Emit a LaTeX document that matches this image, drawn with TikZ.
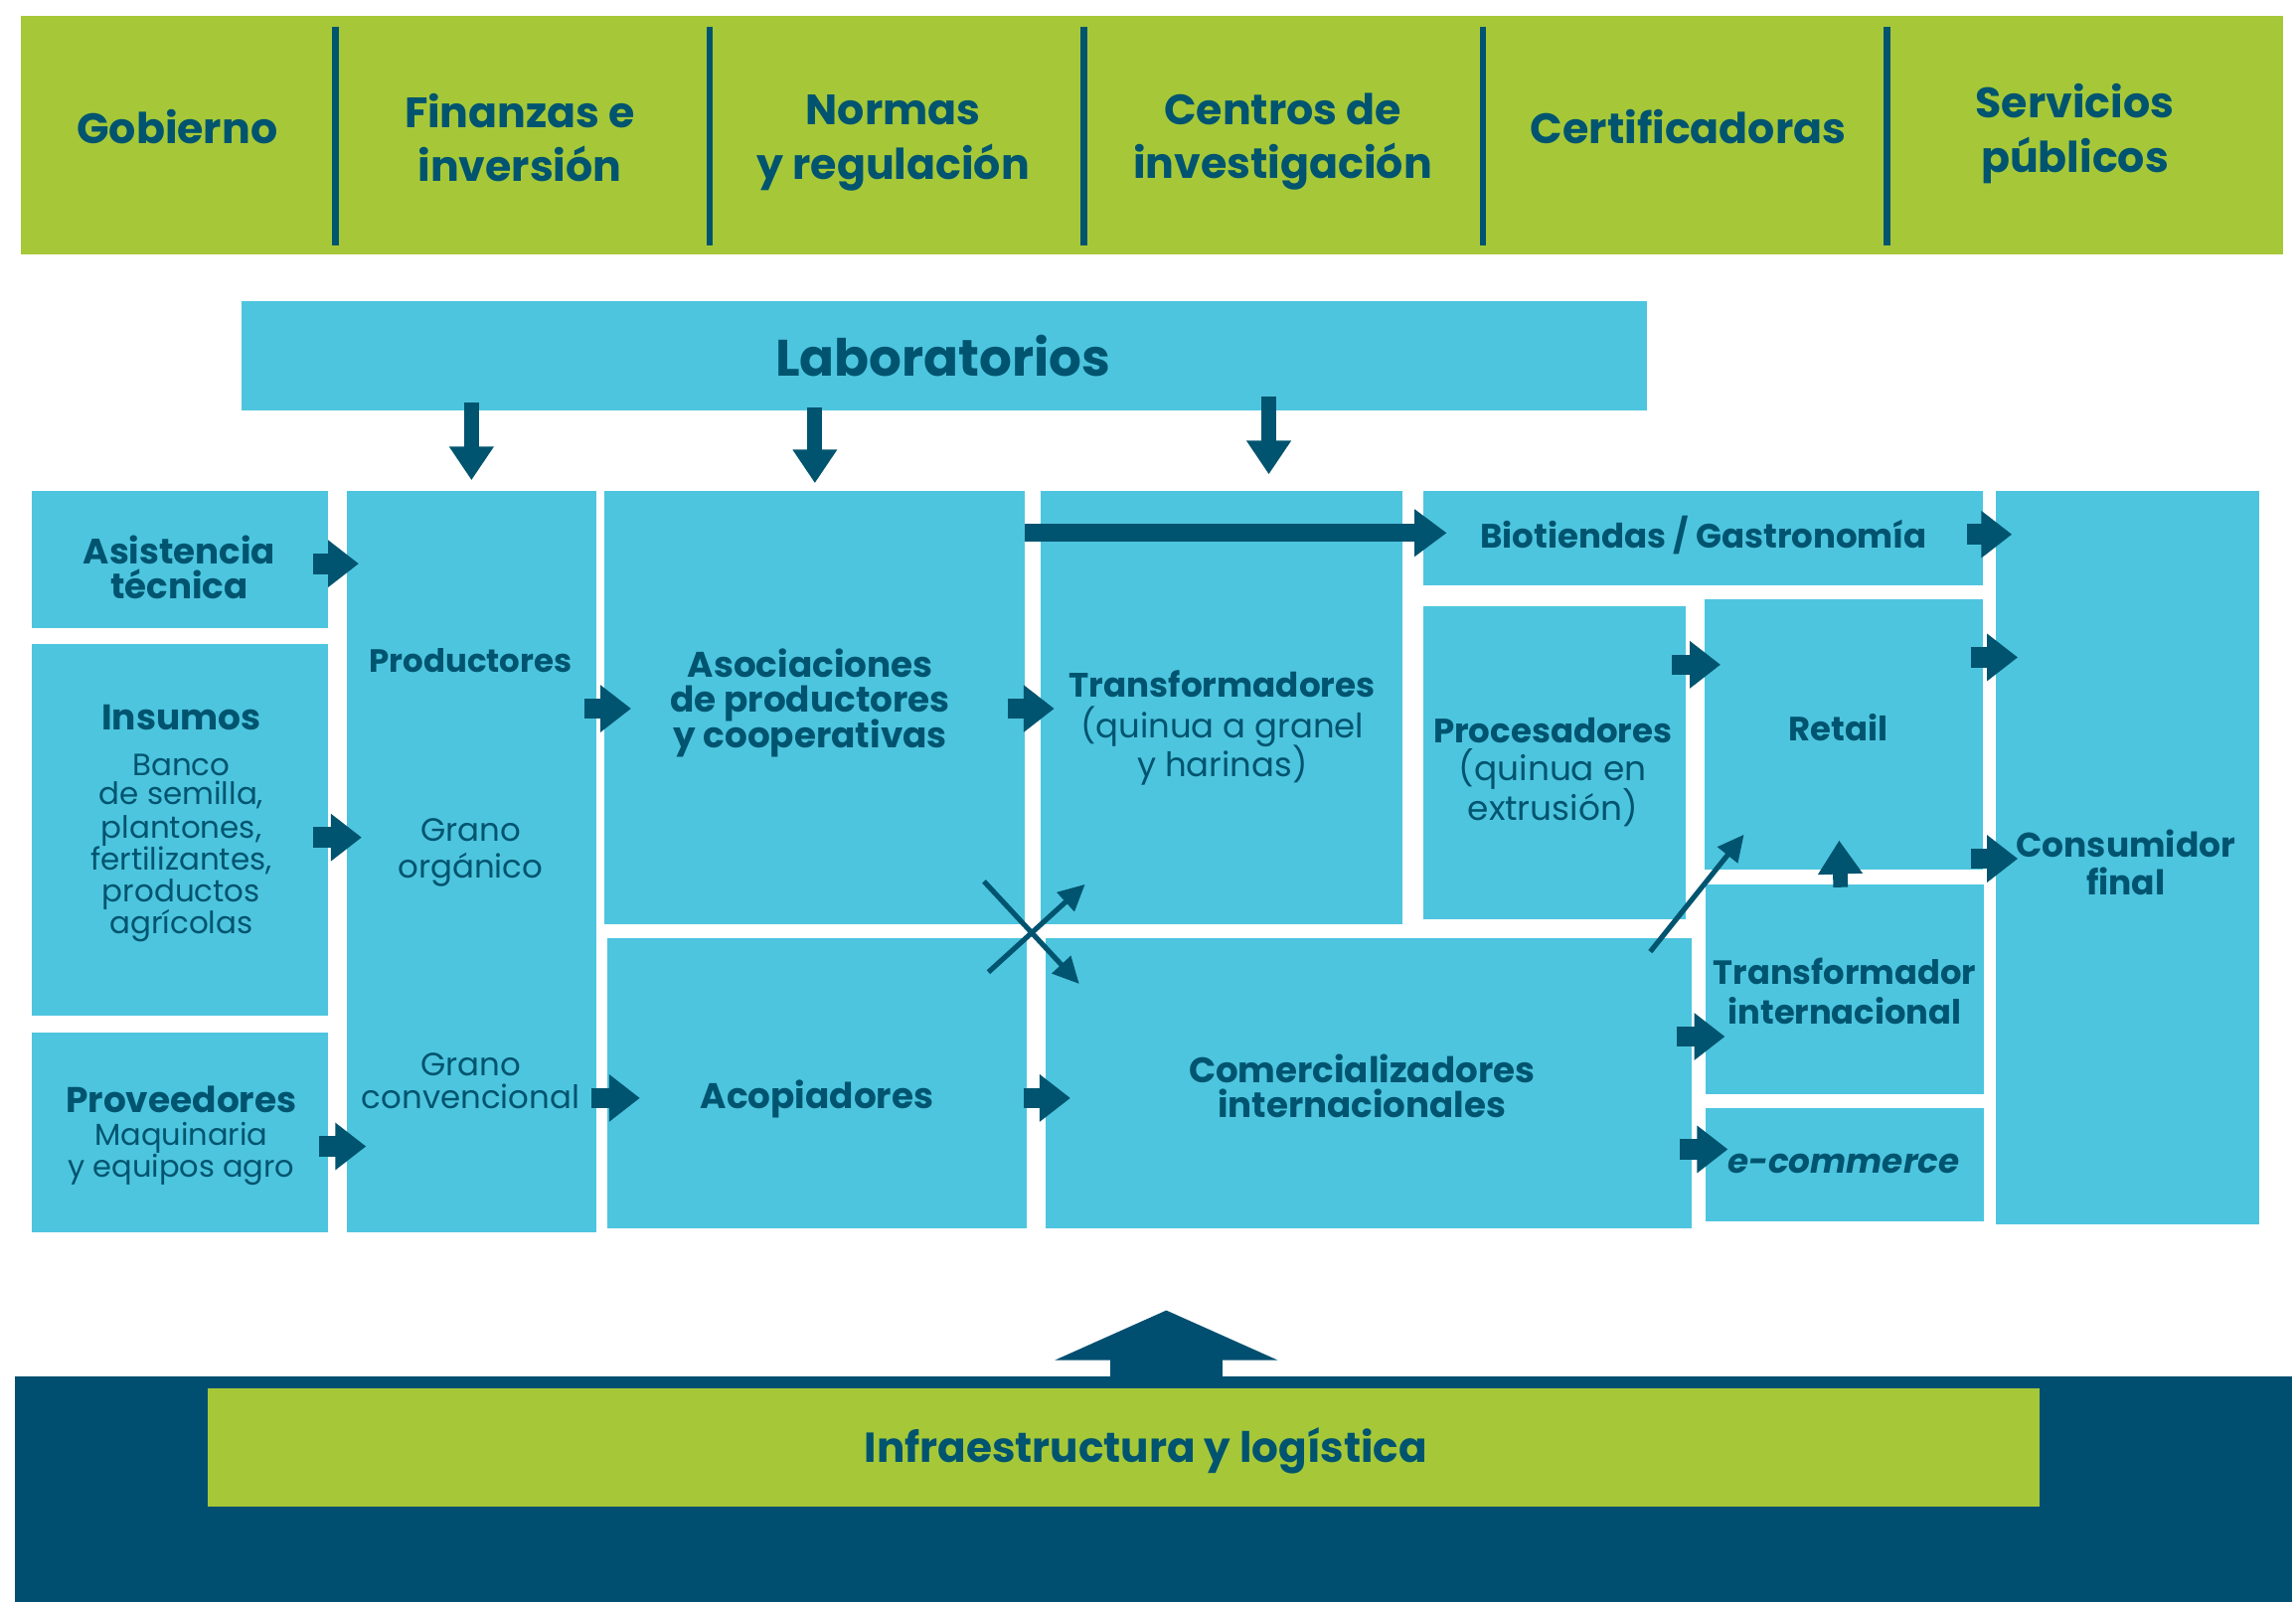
\documentclass[tikz,border=0pt]{standalone}
\usepackage{fontspec}
\setmainfont{Poppins}
\usetikzlibrary{arrows.meta}
\definecolor{gr}{HTML}{A6C838}
\definecolor{lb}{HTML}{4EC5DF}
\definecolor{nv}{HTML}{004F71}
\definecolor{tx}{HTML}{00546F}
\newcommand\fsz[1]{\fontsize{#1}{#1}\selectfont}
\begin{document}
\begin{tikzpicture}[x=1pt,y=-1pt,
  box/.style={fill=lb, inner sep=0pt, outer sep=0pt, anchor=north west, draw=none},
  gbox/.style={fill=gr, inner sep=0pt, outer sep=0pt, anchor=north west, draw=none},
  nbox/.style={fill=nv, inner sep=0pt, outer sep=0pt, anchor=north west, draw=none},
  lbl/.style={anchor=base, inner sep=0pt, text=tx},
  toplbl/.style={lbl, font=\fsz{29}\bfseries},
  lablbl/.style={lbl, font=\fsz{35}\bfseries},
  bb/.style={lbl, font=\fsz{#1}\bfseries},
  br/.style={lbl, font=\fsz{#1}},
  inflbl/.style={lbl, font=\fsz{28.6}\bfseries},
  barrow/.style={draw=tx, line width=14pt, -{Triangle[length=21pt,width=31pt]}},
  larrow/.style={draw=tx, line width=12pt, -{Triangle[length=22pt,width=31pt]}},
  darrow/.style={draw=tx, line width=10pt, -{Triangle[length=23pt,width=29pt]}},
  tarrow/.style={draw=tx, line width=3.5pt, -{Triangle[length=18pt,width=17pt]}},
  bigup/.style={draw=nv, line width=77pt, -{Triangle[length=34pt,width=151pt]}},
  divider/.style={draw=tx, line width=4.5pt}
]
\useasboundingbox (0,0) rectangle (1568,1094);

% top band
\node[gbox, minimum width=1545pt, minimum height=163pt] (top) at (14,11) {};
\foreach \x in {229,484.7,740.4,1012.7,1288.8}
  \draw[divider] (\x,18) -- (\x,167.5);
\node[toplbl] (gob) at (121,98.4) {Gobierno};
\node[toplbl] (fin1) at (355,87.1) {Finanzas e};
\node[toplbl] (fin2) at (355,124) {inversión};
\node[toplbl] (nor1) at (610,85.5) {Normas};
\node[toplbl] (nor2) at (610,122.2) {y regulación};
\node[toplbl] (cen1) at (876,85.5) {Centros de};
\node[toplbl] (cen2) at (876,122) {investigación};
\node[toplbl] (cert) at (1153,97.8) {Certificadoras};
\node[toplbl] (ser1) at (1417,80.3) {Servicios};
\node[toplbl] (ser2) at (1417,117.7) {públicos};

% laboratorios
\node[box, minimum width=960pt, minimum height=74pt] (lab) at (165,206) {};
\node[lablbl] (labt) at (644,256.8) {Laboratorios};

% boxes
\node[box, minimum width=202pt, minimum height=94pt] (asis) at (22,335) {};
\node[box, minimum width=202pt, minimum height=254pt] (insu) at (22,440) {};
\node[box, minimum width=202pt, minimum height=137pt] (prov) at (22,705) {};
\node[box, minimum width=170pt, minimum height=507pt] (prod) at (237,335) {};
\node[box, minimum width=287pt, minimum height=296pt] (asoc) at (413,335) {};
\node[box, minimum width=286pt, minimum height=198pt] (acop) at (415,641) {};
\node[box, minimum width=247pt, minimum height=296pt] (tran) at (711,335) {};
\node[box, minimum width=441pt, minimum height=198pt] (comr) at (714,641) {};
\node[box, minimum width=382pt, minimum height=65pt] (biot) at (972,335) {};
\node[box, minimum width=179pt, minimum height=214pt] (proc) at (972,414) {};
\node[box, minimum width=190pt, minimum height=185pt] (retl) at (1164,409) {};
\node[box, minimum width=190pt, minimum height=143pt] (tint) at (1165,604) {};
\node[box, minimum width=190pt, minimum height=77pt] (ecom) at (1165,757) {};
\node[box, minimum width=180pt, minimum height=501pt] (cons) at (1363,335) {};

% labels
\node[bb=24.2] (asis1) at (122.5,385.2) {Asistencia};
\node[bb=24.2] (asis2) at (122.5,409) {técnica};
\node[bb=24.4] (insu1) at (123.8,498.9) {Insumos};
\node[br=21] (insu2) at (123.8,529.5) {Banco};
\node[br=21] (insu3) at (123.8,549.8) {de semilla,};
\node[br=21] (insu4) at (123.8,572.6) {plantones,};
\node[br=21] (insu5) at (123.8,594) {fertilizantes,};
\node[br=21] (insu6) at (123.8,616) {productos};
\node[br=21] (insu7) at (123.8,638) {agrícolas};
\node[bb=24.4] (prov1) at (123.8,760) {Proveedores};
\node[br=20.7] (prov2) at (123.8,782.3) {Maquinaria};
\node[br=20.7] (prov3) at (123.8,803.7) {y equipos agro};
\node[bb=22] (prod1) at (321.4,459.2) {Productores};
\node[br=22] (prod2) at (321.4,574.6) {Grano};
\node[br=22] (prod3) at (321.4,600) {orgánico};
\node[br=22] (prod4) at (321.4,734.8) {Grano};
\node[br=22] (prod5) at (321.4,756.9) {convencional};
\node[bb=24.3] (asoc1) at (553.3,462.6) {Asociaciones};
\node[bb=24.3] (asoc2) at (553.3,486.4) {de productores};
\node[bb=24.3] (asoc3) at (553.3,510.8) {y cooperativas};
\node[bb=24.3] (acop1) at (558,756.9) {Acopiadores};
\node[bb=23.2] (tran1) at (834.7,476.2) {Transformadores};
\node[br=23] (tran2) at (834.7,504) {(quinua a granel};
\node[br=23] (tran3) at (834.7,530.5) {y harinas)};
\node[bb=23.1] (biot1) at (1163.5,374.4) {Biotiendas / Gastronomía};
\node[bb=23.1] (proc1) at (1060.4,507.4) {Procesadores};
\node[br=23.3] (proc2) at (1060.4,533.5) {(quinua en};
\node[br=23.3] (proc3) at (1060.4,560) {extrusión)};
\node[bb=23] (retl1) at (1255.5,505.7) {Retail};
\node[bb=22.9] (tint1) at (1259.8,672) {Transformador};
\node[bb=22.9] (tint2) at (1259.8,699.2) {internacional};
\node[lbl, font=\fsz{23.2}\bfseries\itshape] (ecom1) at (1259,801) {e-commerce};
\node[bb=24.2] (comr1) at (930,739.2) {Comercializadores};
\node[bb=24.2] (comr2) at (930,763.6) {internacionales};
\node[bb=23.4] (cons1) at (1451.8,585.5) {Consumidor};
\node[bb=23.4] (cons2) at (1451.8,611) {final};

% arrows from laboratorios
\draw[darrow] ([yshift=5pt]lab.south -| prod.north) -- ([yshift=7pt]prod.north);
\draw[darrow] ([yshift=2pt]lab.south -| asoc.north) -- ([yshift=5pt]asoc.north);
\draw[darrow] ([xshift=32pt,yshift=9pt]lab.south -| tran.north) -- ([xshift=32pt,yshift=11pt]tran.north);

% block arrows
\draw[barrow] ([xshift=-10pt,yshift=-3pt]asis.east) -- ++(31,0);
\draw[barrow] ([xshift=-10pt,yshift=-5pt]insu.east) -- ++(33,0);
\draw[barrow] ([xshift=-6pt,yshift=-9.5pt]prov.east) -- ++(32,0);
\draw[barrow] ([xshift=-14pt,yshift=-1pt]asoc.west) -- ++(32,0);
\draw[barrow] ([xshift=-11pt,yshift=-10pt]acop.west) -- ++(33,0);
\draw[barrow] ([xshift=-23pt,yshift=-1pt]tran.west) -- ++(32,0);
\draw[barrow] ([xshift=-15pt,yshift=-10pt]comr.west) -- ++(32,0);
\draw[barrow] ([xshift=-11pt,yshift=2.5pt]biot.east) -- ++(31,0);
\draw[barrow] ([xshift=-9pt,yshift=-40pt]proc.north east) -- ++(33,0);
\draw[barrow] ([xshift=-8pt,yshift=-40pt]retl.north east) -- ++(32,0);
\draw[barrow] ([xshift=-8pt,yshift=7.5pt]retl.south east) -- ++(32,0);
\draw[barrow] ([xshift=-20pt,yshift=-32.5pt]tint.west) -- ++(33,0);
\draw[barrow] ([xshift=-18pt,yshift=10.5pt]ecom.west) -- ++(33,0);
\draw[larrow] ([yshift=-29pt]asoc.north east) -- ([xshift=16pt,yshift=-29pt]biot.north west);
\draw[darrow] ([xshift=-3pt,yshift=-2pt]tint.north) -- ([xshift=-3pt,yshift=20pt]retl.south);

% thin arrows
\coordinate (d1) at (1127,650);
\draw[tarrow] (d1) -- (1191,570);
\coordinate (c1) at (672,602);
\coordinate (c2) at (675,664);
\draw[tarrow] (c1) -- (737,672);
\draw[tarrow] (c2) -- (741,604);

% bottom
\node[nbox, minimum width=1555pt, minimum height=155pt] (navy) at (10,940) {};
\node[gbox, minimum width=1251pt, minimum height=81pt] (infra) at (142,948) {};
\node[inflbl] (inft) at (782.5,999) {Infraestructura y logística};
\draw[bigup] ([xshift=9pt,yshift=-1pt]navy.north) -- ++(0,-46);
\end{tikzpicture}
\end{document}
